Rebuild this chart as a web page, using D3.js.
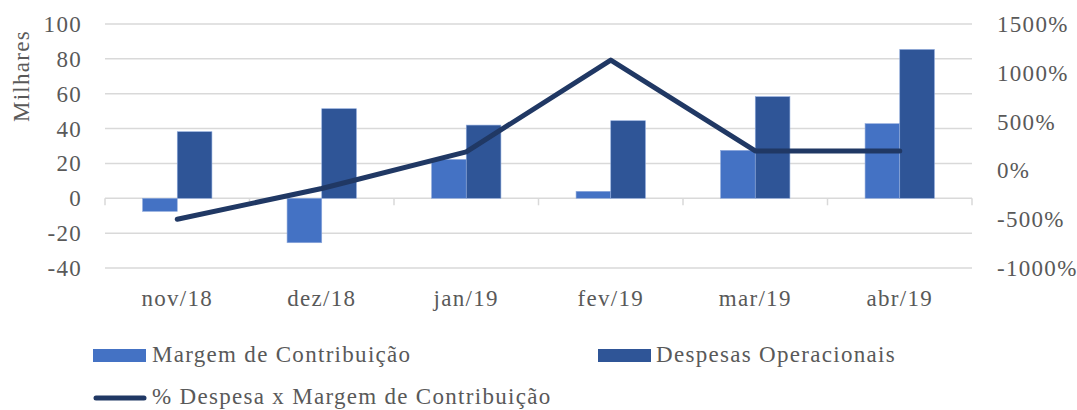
<!DOCTYPE html>
<html lang="pt">
<head>
<meta charset="utf-8">
<script src="https://cdn.jsdelivr.net/npm/d3@7"></script>
<style>
  body { margin: 0; background: #fff; }
  text { font-family: "Liberation Serif", serif; fill: #595959; font-size: 23px; letter-spacing: 1.3px; }
</style>
</head>
<body>
<svg width="1077" height="410"></svg>
<script>
// data (values in thousands, line in %)
var months = ["nov/18", "dez/18", "jan/19", "fev/19", "mar/19", "abr/19"];
var margem = [-7.5, -25.5, 22.3, 4, 27.5, 42.8];
var despesas = [38.2, 51.4, 42, 44.5, 58.3, 85.4];
var pctDespesa = [-500, -185, 190, 1130, 200, 200];
var leftTicks = [-40, -20, 0, 20, 40, 60, 80, 100];
var rightTicks = [-1000, -500, 0, 500, 1000, 1500];

var svg = d3.select("svg");
var plotL = 105, plotR = 972, plotT = 24, plotB = 268;

var x = d3.scaleBand().domain(months).range([plotL, plotR]).paddingInner(0.52).paddingOuter(0.26);
var x0 = d3.scaleBand().domain(months).range([plotL, plotR]);
var y = d3.scaleLinear().domain([-40, 100]).range([plotB, plotT]);
var y2 = d3.scaleLinear().domain([-1000, 1500]).range([plotB, plotT]);

// gridlines
svg.append("g").selectAll("line").data(leftTicks).enter().append("line")
  .attr("x1", plotL).attr("x2", plotR)
  .attr("y1", d => y(d)).attr("y2", d => y(d))
  .attr("stroke", "#d9d9d9").attr("stroke-width", 1.5);

// category ticks on the zero line
var bounds = months.map(m => x0(m)).concat([plotR]);
svg.append("g").selectAll("line").data(bounds).enter().append("line")
  .attr("x1", d => d).attr("x2", d => d)
  .attr("y1", y(0)).attr("y2", y(0) + 7)
  .attr("stroke", "#d9d9d9").attr("stroke-width", 1.5);

var bw = x.bandwidth() / 2;
svg.append("g").selectAll("rect").data(margem).enter().append("rect")
  .attr("x", (d, i) => x(months[i]))
  .attr("width", bw)
  .attr("y", d => y(Math.max(0, d)))
  .attr("height", d => Math.abs(y(d) - y(0)))
  .attr("fill", "#4472c4").attr("stroke", "#8faadc").attr("stroke-width", 0.6);

svg.append("g").selectAll("rect").data(despesas).enter().append("rect")
  .attr("x", (d, i) => x(months[i]) + bw)
  .attr("width", bw)
  .attr("y", d => y(Math.max(0, d)))
  .attr("height", d => Math.abs(y(d) - y(0)))
  .attr("fill", "#2f5597").attr("stroke", "#8faadc").attr("stroke-width", 0.6);

var line = d3.line()
  .x((d, i) => x0(months[i]) + x0.bandwidth() / 2)
  .y(d => y2(d));
svg.append("path").datum(pctDespesa)
  .attr("d", line)
  .attr("fill", "none").attr("stroke", "#203864").attr("stroke-width", 5)
  .attr("stroke-linecap", "round").attr("stroke-linejoin", "round");

// left axis labels
svg.append("g").selectAll("text").data(leftTicks).enter().append("text")
  .attr("x", 82).attr("y", d => y(d)).attr("dy", "0.35em")
  .attr("text-anchor", "end")
  .text(d => d);

svg.append("text")
  .attr("transform", "translate(29,76) rotate(-90)")
  .attr("text-anchor", "middle")
  .text("Milhares");

// right axis labels
svg.append("g").selectAll("text").data(rightTicks).enter().append("text")
  .attr("x", 997).attr("y", d => y2(d)).attr("dy", "0.35em")
  .text(d => d + "%");

// month labels
svg.append("g").selectAll("text").data(months).enter().append("text")
  .attr("x", d => x0(d) + x0.bandwidth() / 2).attr("y", 306)
  .attr("text-anchor", "middle")
  .text(d => d);

// legend
var lg = svg.append("g");
lg.append("rect").attr("x", 93).attr("y", 349).attr("width", 53).attr("height", 13).attr("fill", "#4472c4");
lg.append("text").attr("x", 152).attr("y", 362).text("Margem de Contribuição");
lg.append("rect").attr("x", 598).attr("y", 349).attr("width", 53).attr("height", 13).attr("fill", "#2f5597");
lg.append("text").attr("x", 656).attr("y", 362).text("Despesas Operacionais");
lg.append("line").attr("x1", 96).attr("x2", 144).attr("y1", 398).attr("y2", 398)
  .attr("stroke", "#203864").attr("stroke-width", 5).attr("stroke-linecap", "round");
lg.append("text").attr("x", 152).attr("y", 404).text("% Despesa x Margem de Contribuição");
</script>
</body>
</html>
